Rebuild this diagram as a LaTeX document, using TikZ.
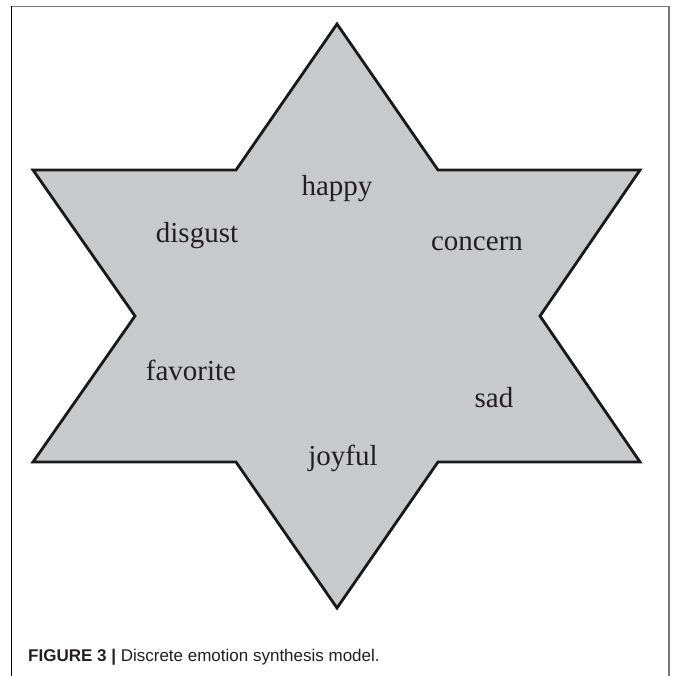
\documentclass[tikz,border=0pt]{standalone}
\usepackage{fontspec}
\setmainfont{Liberation Serif}
\newfontfamily\capfont{Liberation Sans}
\definecolor{starfill}{RGB}{200,201,203}
\definecolor{framegray}{RGB}{120,120,120}
\definecolor{captext}{RGB}{35,31,32}
\begin{document}
\begin{tikzpicture}[x=1pt,y=-1pt,
  lbl/.style={font=\fontsize{29}{34}\selectfont, text=captext, inner sep=0pt, anchor=base},
  star/.style={draw=black!90, line width=2.8pt, fill=starfill, line join=miter}]
\useasboundingbox (0,0) rectangle (673,676);
\fill[white] (0,0) rectangle (673,676);
% frame
\draw[framegray, line width=1.8pt] (11,6.5) -- (669,6.5);
\draw[black, line width=1.2pt] (11.5,6) -- (11.5,676);
\draw[framegray, line width=1.8pt] (669,6) -- (669,676);
% star
\coordinate (t) at (337,24);
\coordinate (ti2) at (438,170);
\coordinate (ur) at (640,170);
\coordinate (ri) at (540,316);
\coordinate (lr) at (640,462);
\coordinate (bi2) at (438,462);
\coordinate (b) at (337,608);
\coordinate (bi1) at (236,462);
\coordinate (ll) at (33,462);
\coordinate (li) at (135,316);
\coordinate (ul) at (33,170);
\coordinate (ti1) at (236,170);
\draw[star] (t) -- (ti2) -- (ur) -- (ri) -- (lr) -- (bi2) -- (b) -- (bi1) -- (ll) -- (li) -- (ul) -- (ti1) -- cycle;
% labels
\node[lbl] (happy) at (337,196) {happy};
\node[lbl] (disgust) at (197,242) {disgust};
\node[lbl] (concern) at (477,250) {concern};
\node[lbl] (favorite) at (191,380) {favorite};
\node[lbl] (sad) at (494,407) {sad};
\node[lbl] (joyful) at (343,465) {joyful};
% caption
\node[anchor=base west, inner sep=0pt, text=captext, font=\capfont\fontsize{17}{20}\selectfont] (cap) at (28,661) {\textbf{FIGURE 3 |} Discrete emotion synthesis model.};
\end{tikzpicture}
\end{document}
